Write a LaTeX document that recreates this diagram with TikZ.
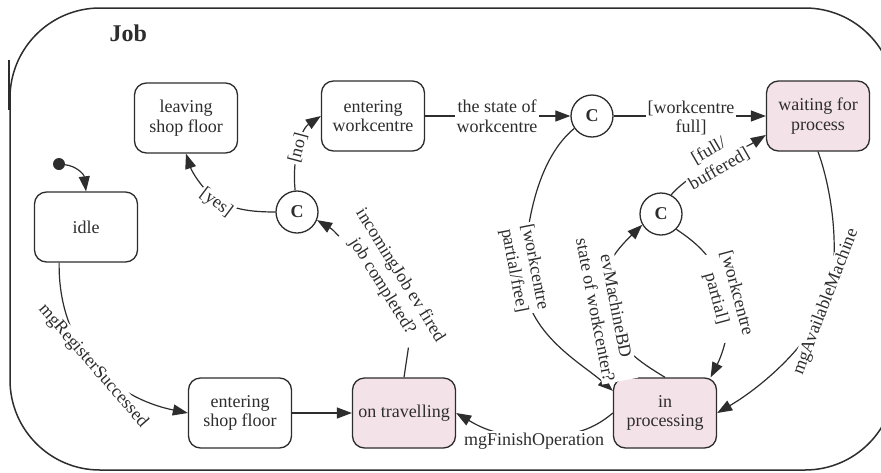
\documentclass[tikz,border=0pt]{standalone}
\usepackage{fontspec}
\setmainfont{Liberation Serif}
\usetikzlibrary{arrows.meta,calc}
\definecolor{ink}{RGB}{45,45,45}
\definecolor{busy}{RGB}{244,226,233}

\begin{document}
\begin{tikzpicture}[x=1pt, y=-1pt,
  every node/.style={font=\fontsize{18}{19.5}\selectfont, text=ink},
  stbox/.style={draw=ink, line width=1.3pt, rounded corners=12pt,
    minimum width=103pt, minimum height=70pt, align=center, inner sep=2pt},
  busybox/.style={stbox, fill=busy},
  choice/.style={draw=ink, line width=1.3pt, circle, minimum size=42pt,
    inner sep=0pt, font=\fontsize{18}{20}\selectfont\bfseries},
  trans/.style={draw=ink, line width=1.2pt},
  arr/.style={trans, -{Triangle[length=15pt,width=11pt]}},
  lbl/.style={inner sep=1.5pt, align=center},
  tall/.style={font=\fontsize{18}{21}\selectfont},
  cut/.style={lbl, fill=white},
  frame/.style={draw=ink, line width=1.5pt},
]
\fill[white] (0,0) rectangle (881,472);
\useasboundingbox (0,0) rectangle (881,472);

% outer composite state
\draw[frame, rounded corners=90pt] (10,8) rectangle (895,470);
\draw[frame] (9,60) -- (9,110);
\node[font=\fontsize{24}{28}\selectfont\bfseries, anchor=base west] (title) at (106,41) {Job};

% states
\node[stbox]   (leaving) at (186,118) {leaving\\shop floor};
\node[stbox]   (idle)    at (86,227)  {idle};
\node[stbox]   (entwork) at (373,116) {entering\\workcentre};
\node[busybox] (waiting) at (818,116) {waiting for\\process};
\node[stbox]   (entshop) at (240,413) {entering\\shop floor};
\node[busybox] (trav)    at (404,413) {on travelling};
\node[busybox] (inproc)  at (665,413) {in\\processing};

% choice points and initial state
\node[choice] (c1) at (297,212) {C};
\node[choice] (c2) at (592,116) {C};
\node[choice] (c3) at (661,214) {C};
\node[fill=ink, circle, minimum size=12pt, inner sep=0pt] (init) at (59,164) {};

% guard of the travelling transition (line runs beside it)
\node[lbl, tall, rotate=-58] (ltrav) at (391,281) {incomingJob ev fired\\job completed?};

% transitions
\draw[arr] (init) .. controls (76,166) and (84,174) .. (idle.north);
\draw[arr] (idle.233) .. controls (58,350) and (115,398) .. (entshop.west);
\draw[arr] (entshop) -- (trav);
\draw[trans] (trav.north) .. controls (406,362) .. ($(ltrav.south west)!0.92!(ltrav.south east)$);
\draw[arr] ($(ltrav.south west)!0.08!(ltrav.south east)$) .. controls (332,229) .. (c1.-22);
\draw[arr] (c1.west) .. controls (245,212) and (232,208) .. (218,200)
  .. controls (204,192) and (192,172) .. (leaving.south);
\draw[arr] (c1.95) .. controls (292,160) and (300,130) .. (entwork.west);
\draw[arr] (entwork) -- (c2);
\draw[arr] (c2) -- (waiting);
\draw[arr] (c3.62) .. controls (690,172) and (745,148) .. (waiting.200);
\draw[arr] (c2.215) .. controls (548,150) and (528,195) .. (524,270)
  .. controls (520,330) and (580,362) .. (inproc.157);
\draw[arr] (inproc.north) .. controls (640,362) and (612,345) .. (606,308)
  .. controls (600,275) and (608,258) .. (c3.210);
\draw[arr] (c3.-45) .. controls (700,245) and (718,262) .. (726,296)
  .. controls (733,326) and (722,355) .. (inproc.38);
\draw[arr] (waiting.south) .. controls (832,190) and (842,258) .. (826,302)
  .. controls (810,346) and (760,388) .. (inproc.east);
\draw[arr] (inproc.west) .. controls (595,428) and (575,437) .. (534,437)
  .. controls (495,437) and (475,424) .. (trav.east);

% guards and events, set over the lines they interrupt
\node[cut, rotate=-49] (lreg)   at (93,366)  {mgRegisterSuccessed};
\node[cut, rotate=-37] (lyes)   at (216,203) {[yes]};
\node[cut, rotate=75]  (lno)    at (298,148) {[no]};
\node[cut]             (lstate) at (497,116) {the state of\\workcentre};
\node[cut]             (lfull)  at (691,118) {[workcentre\\full]};
\node[cut, tall, rotate=30]  (lbuf)   at (714,160) {[full/\\buffered]};
\node[cut, tall, rotate=-79] (lfree)  at (524,269) {[workcentre\\partial/free]};
\node[cut, tall, rotate=-79] (lbd)    at (606,308) {evMachineBD\\state of workcenter?};
\node[cut, tall, rotate=-75] (lpart)  at (726,296) {[workcentre\\partial]};
\node[cut, rotate=69]  (lavail) at (826,302) {mgAvailableMachine};
\node[cut]             (lfin)   at (534,441) {mgFinishOperation};
\end{tikzpicture}
\end{document}
